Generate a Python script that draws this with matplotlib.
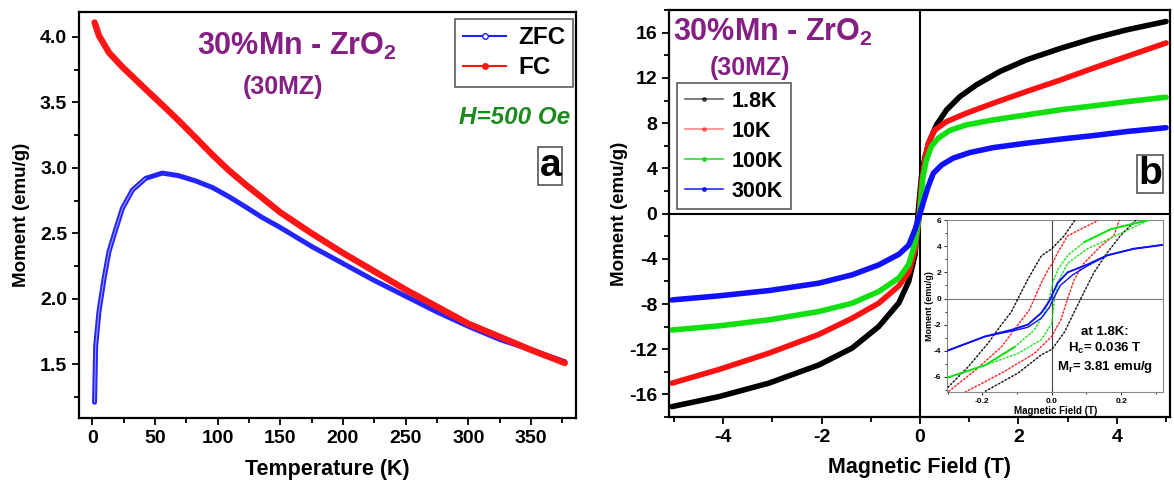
import matplotlib
matplotlib.use("Agg")
import matplotlib.pyplot as plt
from matplotlib.lines import Line2D
from matplotlib.ticker import MultipleLocator, FixedLocator

plt.rcParams['font.family'] = ['Liberation Sans', 'DejaVu Sans']
plt.rcParams['font.weight'] = 'bold'
plt.rcParams['axes.unicode_minus'] = False
plt.rcParams['mathtext.fontset'] = 'custom'
plt.rcParams['mathtext.rm'] = 'Liberation Sans:bold'
plt.rcParams['mathtext.bf'] = 'Liberation Sans:bold'

# ---------------- Panel a data (M vs T) ----------------
zfc_T = [1.8, 2.7, 5.3, 9.3, 13.3, 18.7, 24, 32, 42.6, 55.9, 69, 82.5, 95.8, 109,
         122.6, 135.7, 149, 175, 200, 225, 250, 275, 300, 325, 350, 377]
zfc_M = [1.21, 1.64, 1.90, 2.15, 2.36, 2.53, 2.69, 2.83, 2.92, 2.96, 2.94, 2.90, 2.85,
         2.78, 2.70, 2.62, 2.55, 2.40, 2.27, 2.14, 2.02, 1.90, 1.79, 1.69, 1.61, 1.52]
fc_T = [1.8, 5.3, 13.3, 24, 42.6, 55.9, 69, 82.5, 95.8, 109, 122.6, 135.7, 150, 175,
        200, 225, 250, 275, 300, 325, 350, 377]
fc_M = [4.11, 4.01, 3.88, 3.77, 3.60, 3.48, 3.36, 3.23, 3.10, 2.98, 2.87, 2.77, 2.66,
        2.50, 2.35, 2.21, 2.07, 1.94, 1.81, 1.71, 1.61, 1.51]

# ---------------- Panel b data (M vs H, main) ----------------
H_1p8K = [-5.04, -4.09, -3.07, -2.06, -1.38, -0.84, -0.43, -0.23, -0.1, -0.04, 0.03,
          0.1, 0.2, 0.335, 0.54, 0.81, 1.15, 1.62, 2.16, 2.84, 3.52, 4.2, 5.0]
M_1p8K = [-17.08, -16.2, -15.0, -13.4, -11.9, -10.0, -7.9, -6.0, -3.6, 0.0, 3.3,
          5.0, 6.5, 7.85, 9.18, 10.35, 11.4, 12.57, 13.6, 14.6, 15.5, 16.26, 17.0]
H_10K = [-5.04, -4.09, -3.07, -2.06, -1.38, -0.84, -0.43, -0.23, -0.1, -0.03, 0.03,
         0.1, 0.165, 0.3, 0.54, 0.94, 1.49, 2.16, 2.84, 3.52, 4.2, 5.0]
M_10K = [-15.0, -13.8, -12.35, -10.7, -9.26, -7.93, -6.4, -5.2, -3.2, -0.8, 2.7,
         4.75, 6.2, 7.4, 8.14, 8.88, 9.77, 10.8, 11.8, 12.87, 13.9, 15.1]
H_100K = [-5.04, -4.09, -3.07, -2.06, -1.38, -0.84, -0.43, -0.23, -0.1, 0.0, 0.06,
          0.13, 0.23, 0.37, 0.6, 0.94, 1.49, 2.16, 2.84, 3.52, 4.2, 5.0]
M_100K = [-10.3, -9.94, -9.4, -8.67, -7.93, -6.9, -5.7, -4.5, -2.6, 0.3, 3.27,
          4.75, 5.93, 6.67, 7.35, 7.85, 8.29, 8.73, 9.18, 9.53, 9.9, 10.3]
H_300K = [-5.04, -4.09, -3.07, -2.06, -1.38, -0.84, -0.43, -0.23, -0.1, 0.0, 0.08,
          0.165, 0.27, 0.44, 0.67, 1.01, 1.49, 2.16, 2.84, 3.52, 4.2, 5.0]
M_300K = [-7.64, -7.28, -6.81, -6.16, -5.42, -4.54, -3.6, -2.8, -1.4, 0.0, 1.2,
          2.39, 3.57, 4.3, 4.9, 5.4, 5.84, 6.23, 6.58, 6.9, 7.26, 7.6]
temp_labels = ['1.8K', '10K', '100K', '300K']

# ---------------- Inset data (hysteresis loops) ----------------
blk_dn_H = [-0.307, -0.24, -0.183, -0.145, -0.116, -0.097, -0.069, -0.030, 0.0, 0.036, 0.067]
blk_dn_M = [-7.0, -5.2, -3.4, -2.0, -1.0, 0.0, 1.46, 3.26, 3.8, 4.8, 6.0]
blk_up_H = [-0.192, -0.097, -0.030, 0.0, 0.036, 0.084, 0.122, 0.160, 0.198, 0.243]
blk_up_M = [-7.1, -5.7, -4.3, -3.9, -2.6, 0.0, 2.0, 3.5, 4.8, 6.0]
red_dn_H = [-0.297, -0.221, -0.145, -0.097, -0.064, -0.050, -0.030, -0.011, 0.0, 0.017, 0.046, 0.136]
red_dn_M = [-7.1, -5.5, -3.7, -2.0, -0.85, 0.0, 1.2, 2.2, 2.6, 3.5, 4.8, 6.0]
red_up_H = [-0.26, -0.145, -0.05, 0.0, 0.027, 0.046, 0.065, 0.093, 0.141, 0.179, 0.195]
red_up_M = [-7.3, -5.7, -4.2, -2.9, -1.6, 0.0, 1.46, 2.7, 4.0, 4.8, 6.0]
grn_dn_H = [-0.307, -0.192, -0.107, -0.05, -0.021, -0.007, 0.003, 0.017, 0.046, 0.093, 0.17, 0.28]
grn_dn_M = [-6.1, -5.1, -3.7, -2.4, -1.1, 0.0, 1.2, 2.2, 3.3, 4.3, 5.3, 6.0]
grn_up_H = [-0.192, -0.097, -0.03, 0.0, 0.008, 0.022, 0.046, 0.103, 0.16, 0.28]
grn_up_M = [-5.1, -4.2, -3.15, -1.9, 0.0, 1.46, 2.7, 3.8, 4.5, 6.0]
blu_dn_H = [-0.307, -0.192, -0.116, -0.069, -0.03, -0.007, 0.0, 0.017, 0.046, 0.103, 0.16, 0.236, 0.32]
blu_dn_M = [-4.05, -2.9, -2.4, -2.0, -1.1, -0.2, 0.2, 1.2, 2.0, 2.6, 3.3, 3.8, 4.1]
blu_up_H = [-0.307, -0.192, -0.116, -0.069, -0.03, -0.007, 0.005, 0.025, 0.06, 0.103, 0.16, 0.236, 0.32]
blu_up_M = [-4.05, -2.9, -2.5, -2.2, -1.5, -0.7, 0.0, 1.0, 1.8, 2.5, 3.3, 3.8, 4.1]

PURPLE = '#861f84'
GREEN_T = '#1b8a1b'
C_BLK, C_RED, C_GRN, C_BLU = '#000000', '#ff1010', '#10e010', '#1010ff'
LINE_KW = dict(solid_capstyle='round', solid_joinstyle='round')

fig = plt.figure(figsize=(11.74, 4.84), dpi=100)


def style_axes(ax, labelsize):
    ax.tick_params(which='both', direction='out', labelsize=labelsize, width=1.3)
    ax.tick_params(which='major', length=5)
    ax.tick_params(which='minor', length=3.5)
    for lab in ax.get_xticklabels() + ax.get_yticklabels():
        lab.set_fontweight('bold')
    for s in ax.spines.values():
        s.set_linewidth(1.6)


# ================= Panel a =================
ax1 = fig.add_axes([0.0673, 0.1364, 0.4234, 0.8388])
ax1.plot(zfc_T, zfc_M, color='#2424ff', lw=3.6, **LINE_KW)
ax1.plot(zfc_T[:9], zfc_M[:9], color='#9a9aff', lw=0.8, **LINE_KW)
ax1.plot(fc_T, fc_M, color='#ff1515', lw=4.6, **LINE_KW)
ax1.set_xlim(-10.6, 386)
ax1.set_ylim(1.09, 4.19)
ax1.xaxis.set_major_locator(MultipleLocator(50))
ax1.xaxis.set_minor_locator(MultipleLocator(25))
ax1.yaxis.set_major_locator(MultipleLocator(0.5))
ax1.yaxis.set_minor_locator(MultipleLocator(0.25))
style_axes(ax1, 14)
ax1.set_xlabel('Temperature (K)', fontsize=15.5, fontweight='bold', labelpad=9)
ax1.set_ylabel('Moment (emu/g)', fontsize=13.5, fontweight='bold', labelpad=7)

ax1.text(0.438, 0.916, r'30%Mn - ZrO$_2$', transform=ax1.transAxes, ha='center',
         va='center', fontsize=22, color=PURPLE, fontweight='bold')
ax1.text(0.41, 0.815, '(30MZ)', transform=ax1.transAxes, ha='center',
         va='center', fontsize=18, color=PURPLE, fontweight='bold')
ax1.text(0.988, 0.741, 'H=500 Oe', transform=ax1.transAxes, ha='right',
         va='center', fontsize=17.5, color=GREEN_T, fontweight='bold', style='italic')
ax1.text(0.948, 0.621, 'a', transform=ax1.transAxes, ha='center', va='center',
         fontsize=28, fontweight='bold',
         bbox=dict(boxstyle='square,pad=0.03', fc='white', ec='#555555', lw=1.2))
h1 = [Line2D([], [], color='#2020ff', lw=1.5, marker='o', mfc='white', ms=4, mew=1),
      Line2D([], [], color='#ff1515', lw=1.5, marker='o', ms=4)]
leg1 = ax1.legend(h1, ['ZFC', 'FC'], loc='upper right', bbox_to_anchor=(0.994, 0.983),
                  fontsize=17.5, frameon=True, fancybox=False, edgecolor='#333333',
                  handlelength=1.8, borderpad=0.3, labelspacing=0.3, handletextpad=0.5,
                  borderaxespad=0.0)
leg1.get_frame().set_linewidth(1.2)
for t in leg1.get_texts():
    t.set_fontweight('bold')

# ================= Panel b =================
ax2 = fig.add_axes([0.5699, 0.1384, 0.4267, 0.8406])
ax2.axhline(0, color='black', lw=1.5, zorder=1)
ax2.axvline(0, color='black', lw=1.5, zorder=1)
cols = [C_BLK, C_RED, C_GRN, C_BLU]
curves = [(H_1p8K, M_1p8K), (H_10K, M_10K), (H_100K, M_100K), (H_300K, M_300K)]
for (H, M), c in zip(curves, cols):
    ax2.plot(H, M, color=c, lw=4, zorder=2, **LINE_KW)
ax2.set_xlim(-5.1, 5.08)
ax2.set_ylim(-18, 18)
ax2.xaxis.set_major_locator(MultipleLocator(2))
ax2.xaxis.set_minor_locator(MultipleLocator(1))
ax2.yaxis.set_major_locator(MultipleLocator(4))
ax2.yaxis.set_minor_locator(MultipleLocator(2))
style_axes(ax2, 14)
ax2.set_xlabel('Magnetic Field (T)', fontsize=15.5, fontweight='bold', labelpad=8)
ax2.set_ylabel('Moment (emu/g)', fontsize=13.5, fontweight='bold', labelpad=1)

ax2.text(0.008, 0.946, r'30%Mn - ZrO$_2$', transform=ax2.transAxes, ha='left',
         va='center', fontsize=22, color=PURPLE, fontweight='bold')
ax2.text(0.162, 0.857, '(30MZ)', transform=ax2.transAxes, ha='center',
         va='center', fontsize=18, color=PURPLE, fontweight='bold')
ax2.text(0.96, 0.598, 'b', transform=ax2.transAxes, ha='center', va='center',
         fontsize=28, fontweight='bold',
         bbox=dict(boxstyle='square,pad=0.03', fc='white', ec='#555555', lw=1.2))
h2 = [Line2D([], [], color=c, lw=1.2, marker='o', ms=2.5, alpha=a)
      for c, a in zip(cols, [0.6, 0.5, 0.9, 0.9])]
leg2 = ax2.legend(h2, temp_labels, loc='upper left', bbox_to_anchor=(0.016, 0.821),
                  fontsize=15.5, frameon=True, fancybox=False, edgecolor='#333333',
                  handlelength=1.8, borderpad=0.35, labelspacing=0.42, handletextpad=0.4,
                  borderaxespad=0.0)
leg2.get_frame().set_linewidth(1.2)
for t in leg2.get_texts():
    t.set_fontweight('bold')

# ================= Inset =================
axi = fig.add_axes([0.8066, 0.190, 0.1844, 0.3554])
axi.axhline(0, color='#777777', lw=0.8, zorder=1)
axi.axvline(0, color='#444444', lw=0.8, zorder=1)
loops = [(blk_dn_H, blk_dn_M, blk_up_H, blk_up_M, C_BLK),
         (red_dn_H, red_dn_M, red_up_H, red_up_M, C_RED),
         (grn_dn_H, grn_dn_M, grn_up_H, grn_up_M, C_GRN)]
for hd, md, hu, mu, c in loops:
    for hh, mm in ((hd, md), (hu, mu)):
        axi.plot(hh, mm, color=c, lw=0.6, alpha=0.55, zorder=2, **LINE_KW)
        axi.plot(hh, mm, color=c, lw=1.1, ls=(0, (1, 1.5)), zorder=3)
axi.plot(blu_dn_H, blu_dn_M, color=C_BLU, lw=1.4, zorder=3, **LINE_KW)
axi.plot(blu_up_H, blu_up_M, color=C_BLU, lw=1.0, zorder=3, **LINE_KW)
axi.plot(grn_dn_H[:3], grn_dn_M[:3], color=C_GRN, lw=1.4, zorder=3, **LINE_KW)
axi.plot(grn_dn_H[-3:], grn_dn_M[-3:], color=C_GRN, lw=1.4, zorder=3, **LINE_KW)
axi.set_xlim(-0.302, 0.322)
axi.set_ylim(-7.15, 6)
axi.xaxis.set_major_locator(FixedLocator([-0.2, 0.0, 0.2]))
axi.xaxis.set_minor_locator(FixedLocator([-0.3, -0.1, 0.1, 0.3]))
axi.yaxis.set_major_locator(MultipleLocator(2))
axi.yaxis.set_minor_locator(MultipleLocator(1))
axi.set_xticklabels(['-0.2', '0.0', '0.2'])
axi.tick_params(which='both', direction='out', labelsize=6, width=0.6, pad=1.5)
axi.tick_params(which='major', length=2.5)
axi.tick_params(which='minor', length=1.5)
for lab in axi.get_xticklabels() + axi.get_yticklabels():
    lab.set_fontweight('bold')
for s in axi.spines.values():
    s.set_linewidth(0.8)
    s.set_color('#888888')
axi.set_xlabel('Magnetic Field (T)', fontsize=7, fontweight='bold', labelpad=1)
axi.set_ylabel('Moment (emu/g)', fontsize=6.5, fontweight='bold', labelpad=0)
axi.text(0.73, 0.24, 'at 1.8K:\n$\\mathregular{H_c}$= 0.036 T\n$\\mathregular{M_r}$= 3.81 emu/g',
         transform=axi.transAxes, ha='center', va='center', fontsize=9.5,
         fontweight='bold', linespacing=1.25, multialignment='center')

fig.savefig('out.png', dpi=100)
